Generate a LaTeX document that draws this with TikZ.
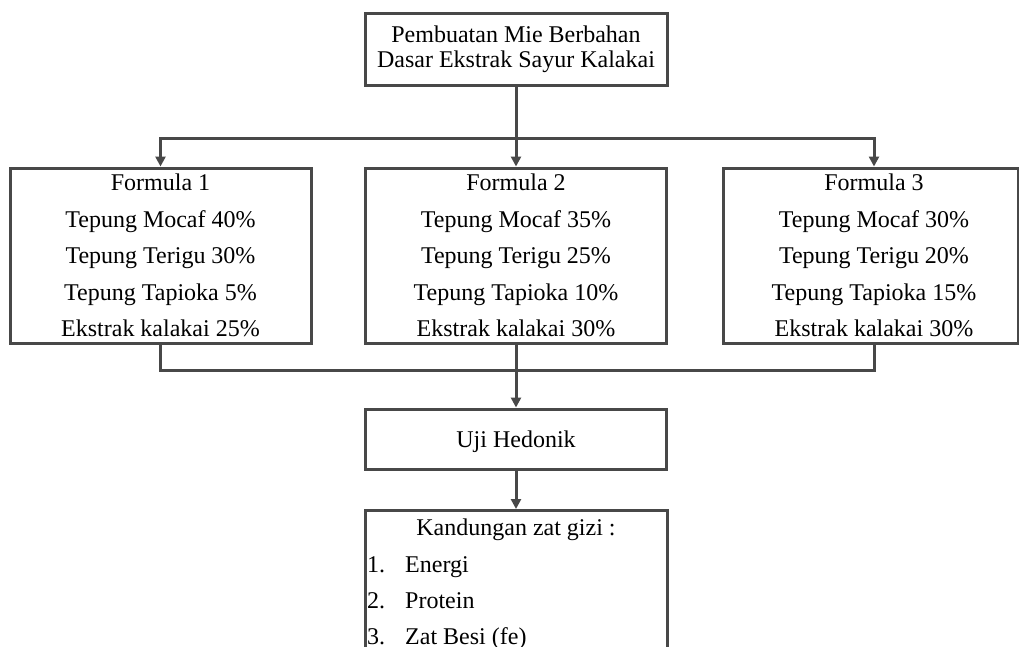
\documentclass[tikz,border=0pt]{standalone}
\usepackage{fontspec}
\setmainfont{Liberation Serif}
\usetikzlibrary{arrows.meta}
\definecolor{ln}{RGB}{72,72,72}
\tikzset{
  box/.style={draw=ln, line width=3pt, inner sep=0pt, align=center,
    font=\fontsize{24}{36.5}\selectfont},
  boxtext/.style={inner sep=0pt, align=center, font=\fontsize{24}{36.5}\selectfont},
  conn/.style={draw=ln, line width=3pt},
  arr/.style={conn, -{Triangle[length=10pt,width=10pt]}},
  listtext/.style={inner sep=0pt, anchor=base west, font=\fontsize{24}{28}\selectfont}
}
\begin{document}
\begin{tikzpicture}[x=1pt,y=-1pt]
\useasboundingbox (0,0) rectangle (1019,646);
\clip (0,0) rectangle (1019,646);

% top box
\node[box, minimum width=302pt, minimum height=72pt,
      font=\fontsize{24}{25}\selectfont] (top) at (516,49)
  {Pembuatan Mie Berbahan\\Dasar Ekstrak Sayur Kalakai};

% formula boxes
\node[box, minimum width=301pt, minimum height=175pt] (f1) at (160.5,255.5)
  {Formula 1\\Tepung Mocaf 40\%\\Tepung Terigu 30\%\\Tepung Tapioka 5\%\\Ekstrak kalakai 25\%};
\node[box, minimum width=301pt, minimum height=175pt] (f2) at (516,255.5)
  {Formula 2\\Tepung Mocaf 35\%\\Tepung Terigu 25\%\\Tepung Tapioka 10\%\\Ekstrak kalakai 30\%};
\node[box, minimum width=295pt, minimum height=175pt] (f3) at (870.5,255.5) {};
\node[boxtext] (f3t) at (874,255.5)
  {Formula 3\\Tepung Mocaf 30\%\\Tepung Terigu 20\%\\Tepung Tapioka 15\%\\Ekstrak kalakai 30\%};

% uji hedonik
\node[box, minimum width=301pt, minimum height=60pt, text depth=0pt] (uji) at (516,439) {Uji Hedonik};

% kandungan box
\node[box, minimum width=302pt, minimum height=170pt, anchor=north] (kand) at (516,509) {};
\node[listtext, anchor=base] (kt) at (516,535) {Kandungan zat gizi :};
\node[listtext] (n1) at (367,572) {1.};
\node[listtext] (e1) at (405,572) {Energi};
\node[listtext] (n2) at (367,608) {2.};
\node[listtext] (e2) at (405,608) {Protein};
\node[listtext] (n3) at (367,644) {3.};
\node[listtext] (e3) at (405,644) {Zat Besi (fe)};

% connectors top
\coordinate (h1) at (0,138);
\coordinate (j1) at (top.south |- h1);
\draw[conn] (top.south) -- (j1);
\draw[arr] (j1) -- (f2.north);
\draw[arr] (j1) -| (f1.north);
\draw[arr] (j1) -| (f3t |- f3.north);

% connectors bottom
\coordinate (h2) at (0,370);
\draw[conn] (f1.south) |- (h2 -| f3t) -- (f3t |- f3.south);
\draw[arr] (f2.south) -- (uji.north);
\draw[arr] (uji.south) -- (kand.north);
\end{tikzpicture}
\end{document}
